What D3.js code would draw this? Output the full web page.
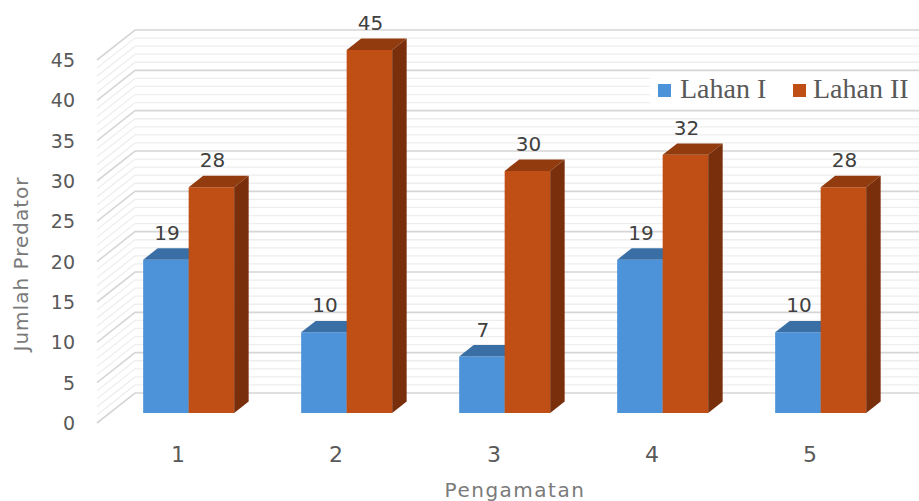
<!DOCTYPE html>
<html>
<head>
<meta charset="utf-8">
<script src="https://cdn.jsdelivr.net/npm/d3@7"></script>
<style>
  html, body { margin: 0; padding: 0; background: #fff; }
  svg { display: block; }
</style>
</head>
<body>
<svg id="chart" width="919" height="501"></svg>
<script>
// Observation rounds and predator counts per field
const categories = ["1", "2", "3", "4", "5"];
const seriesNames = ["Lahan I", "Lahan II"];
const lahanI = [19, 10, 7, 19, 10];
const lahanII = [28, 45, 30, 32, 28];
const yTicks = [0, 5, 10, 15, 20, 25, 30, 35, 40, 45];

const colors = {
  "Lahan I":  { front: "#4d93d9", top: "#3a6fa6", side: "#2f5d8c" },
  "Lahan II": { front: "#c04f15", top: "#923b0f", side: "#7a2f0c" }
};

const svg = d3.select("#chart");

// Front plane of the plot box
const x = d3.scaleBand().domain(categories).range([97, 887]);
const y = d3.scaleLinear().domain([0, 45]).range([423, 60]);

// Oblique depth offset (full depth of the box)
const DX = 38, DY = -30;
const P = (px, v, d) => [px + DX * d, y(v) + DY * d];

// Side and back wall gridlines: a line every unit, darker every 5
const grid = svg.append("g");
d3.range(0, 46).forEach(v => {
  const major = v % 5 === 0;
  const a = P(97, v, 0), b = P(97, v, 1), c = P(887, v, 1);
  grid.append("path")
    .attr("d", `M${a[0]},${a[1]}L${b[0]},${b[1]}L${c[0] + 10},${c[1]}`)
    .attr("fill", "none")
    .attr("stroke", major ? "#d6d6d6" : "#eeeeee")
    .attr("stroke-width", major ? 1.6 : 1.3);
});

// Legend backdrop
svg.append("rect").attr("x", 650).attr("y", 72).attr("width", 269).attr("height", 33).attr("fill", "#fff");

// Bars
const d0 = 1 / 3, d1 = d0 + 14.5 / 38;
const barW = 45.5;
const data = categories.map((c, i) => ({ c, vals: [lahanI[i], lahanII[i]] }));
const bars = svg.append("g");
const poly = pts => "M" + pts.map(p => p.join(",")).join("L") + "Z";

data.forEach(g => {
  const cx = x(g.c) + x.bandwidth() / 2;
  g.vals.forEach((v, s) => {
    const col = colors[seriesNames[s]];
    const x0 = cx + (s === 0 ? -barW : 0), x1 = x0 + barW;
    // front face
    bars.append("path").attr("fill", col.front)
      .attr("d", poly([P(x0, 0, d0), P(x1, 0, d0), P(x1, v, d0), P(x0, v, d0)]));
    // top face
    bars.append("path").attr("fill", col.top)
      .attr("d", poly([P(x0, v, d0), P(x1, v, d0), P(x1, v, d1), P(x0, v, d1)]));
    // right side face
    bars.append("path").attr("fill", col.side)
      .attr("d", poly([P(x1, 0, d0), P(x1, 0, d1), P(x1, v, d1), P(x1, v, d0)]));
    // value label
    const t = P((x0 + x1) / 2, v, d0);
    svg.append("text")
      .attr("x", t[0] + 1).attr("y", t[1] - 20)
      .attr("text-anchor", "middle")
      .attr("font-family", "DejaVu Sans")
      .attr("font-size", 20)
      .attr("fill", "#404040")
      .text(v);
  });
});

// Value axis labels
svg.append("g").selectAll("text").data(yTicks).join("text")
  .attr("x", 75).attr("y", d => y(d))
  .attr("dy", "0.36em")
  .attr("text-anchor", "end")
  .attr("font-family", "DejaVu Sans")
  .attr("font-size", 19)
  .attr("fill", "#595959")
  .text(d => d);

// Category labels
svg.append("g").selectAll("text").data(categories).join("text")
  .attr("x", d => x(d) + x.bandwidth() / 2 + 2)
  .attr("y", 462)
  .attr("text-anchor", "middle")
  .attr("font-family", "DejaVu Sans")
  .attr("font-size", 22)
  .attr("fill", "#595959")
  .text(d => d);

// Axis titles
svg.append("text")
  .attr("x", 515).attr("y", 497)
  .attr("text-anchor", "middle")
  .attr("font-family", "DejaVu Sans")
  .attr("font-size", 20)
  .attr("letter-spacing", 1.5)
  .attr("fill", "#7a7a7a")
  .text("Pengamatan");

svg.append("text")
  .attr("transform", "translate(28,264) rotate(-90)")
  .attr("text-anchor", "middle")
  .attr("font-family", "DejaVu Sans")
  .attr("font-size", 20)
  .attr("letter-spacing", 1)
  .attr("fill", "#7a7a7a")
  .text("Jumlah Predator");

// Legend
const legendItems = [
  { name: seriesNames[0], sx: 658, tx: 680 },
  { name: seriesNames[1], sx: 793, tx: 813 }
];
const lg = svg.append("g");
legendItems.forEach(it => {
  lg.append("rect").attr("x", it.sx).attr("y", 84).attr("width", 13).attr("height", 13)
    .attr("fill", colors[it.name].front);
  lg.append("text").attr("x", it.tx).attr("y", 98)
    .attr("font-family", "Liberation Serif")
    .attr("font-size", 28)
    .attr("fill", "#595959")
    .text(it.name);
});
</script>
</body>
</html>
